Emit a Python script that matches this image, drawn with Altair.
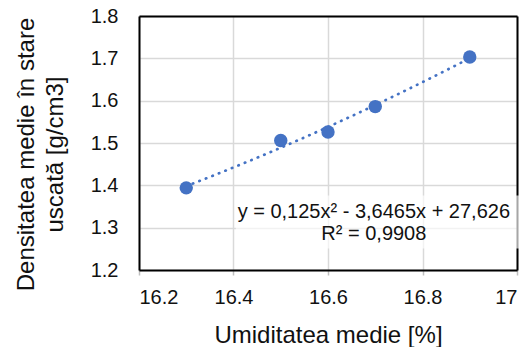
import altair as alt
import pandas as pd

umiditate = [16.3, 16.5, 16.6, 16.7, 16.9]
densitate = [1.394, 1.506, 1.526, 1.586, 1.703]
x_ticks = [16.2, 16.4, 16.6, 16.8, 17.0]
y_ticks = [1.2, 1.3, 1.4, 1.5, 1.6, 1.7, 1.8]
eq_lines = ["y = 0,125x² - 3,6465x + 27,626", "R² = 0,9908"]
eq_x = [16.697, 16.697]
eq_y = [1.322, 1.2715]

df = pd.DataFrame({"x": umiditate, "y": densitate})
ann = pd.DataFrame({"x": eq_x, "y": eq_y, "t": eq_lines})
box = pd.DataFrame({"x": [16.405], "x2": [17.006], "y": [1.251], "y2": [1.376]})

FONT = "Liberation Sans"
BLUE = "#4472C4"
TXT = "#111111"

xscale = alt.Scale(domain=[16.2, 17.0], nice=False, zero=False)
yscale = alt.Scale(domain=[1.2, 1.8], nice=False, zero=False)

xs = alt.X("x:Q", scale=xscale,
           axis=alt.Axis(values=x_ticks, format="~g", title="Umiditatea medie [%]",
                         labelFontSize=20, labelFont=FONT, labelColor=TXT,
                         labelPadding=12, ticks=True, tickColor="#bfbfbf", tickSize=5, tickWidth=1.5,
                         domain=True, domainColor="black", domainWidth=2,
                         grid=True, gridColor="#d9d9d9", gridWidth=1.5,
                         titleFont=FONT, titleFontSize=24, titleFontWeight="normal", titleColor=TXT,
                         titleY=72, titleBaseline="alphabetic"))
ys = alt.Y("y:Q", scale=yscale,
           axis=alt.Axis(values=y_ticks, format=".1f", title=["Densitatea medie în stare", "uscată [g/cm3]"],
                         labelFontSize=20, labelFont=FONT, labelColor=TXT,
                         labelPadding=21, ticks=False,
                         domain=True, domainColor="black", domainWidth=2,
                         grid=True, gridColor="#d9d9d9", gridWidth=1.5,
                         titleFont=FONT, titleFontSize=24, titleFontWeight="normal", titleColor=TXT,
                         titleX=-106, titleY=138, titleAngle=-90, titleAlign="center",
                         titleBaseline="alphabetic", titleLineHeight=29))

nx = alt.X("x:Q", scale=xscale, axis=None)
ny = alt.Y("y:Q", scale=yscale, axis=None)

base = alt.Chart(df)

trend = base.transform_regression("x", "y", method="poly", order=2, extent=[16.3, 16.9]).mark_line(
    color=BLUE, strokeWidth=2.7, strokeDash=[0.5, 6.5], strokeCap="round"
).encode(x=xs, y=ys)

frame = base.mark_point(opacity=0).encode(
    x=alt.X("x:Q", scale=xscale, axis=alt.Axis(orient="top", labels=False, ticks=False, grid=False,
                                               domainColor="black", domainWidth=2, title=None)),
    y=alt.Y("y:Q", scale=yscale, axis=alt.Axis(orient="right", labels=False, ticks=False, grid=False,
                                               domainColor="black", domainWidth=2, title=None)),
)

points = base.mark_circle(color=BLUE, opacity=1, size=180).encode(x=nx, y=ny)

boxmark = alt.Chart(box).mark_rect(fill="white", opacity=0.65).encode(
    x=nx, x2="x2:Q", y=ny, y2="y2:Q")

text = alt.Chart(ann).mark_text(font=FONT, fontSize=20, color=TXT, align="center",
                                baseline="alphabetic").encode(x=nx, y=ny, text="t:N")

chart = alt.layer(trend, frame, points, boxmark, text).resolve_axis(
    x="independent", y="independent"
).properties(
    width=378, height=254,
    autosize=alt.AutoSizeParams(type="none"),
    padding={"left": 139, "top": 16, "right": 14, "bottom": 77},
).configure_view(stroke=None).configure(background="white")

chart.save("out.html", embed_options={"renderer": "svg", "actions": False})
